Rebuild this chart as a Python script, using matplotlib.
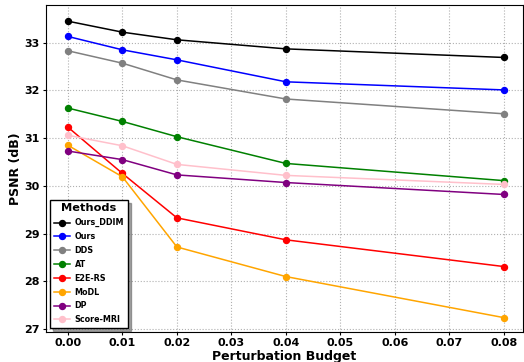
import matplotlib
matplotlib.use('Agg')
import matplotlib.pyplot as plt

budget = [0.0, 0.01, 0.02, 0.04, 0.08]
methods = ['Ours_DDIM', 'Ours', 'DDS', 'AT', 'E2E-RS', 'MoDL', 'DP', 'Score-MRI']
colors = ['black', 'blue', 'gray', 'green', 'red', 'orange', 'purple', 'pink']

ours_ddim = [33.45, 33.22, 33.06, 32.87, 32.69]
ours = [33.13, 32.85, 32.64, 32.18, 32.01]
dds = [32.83, 32.57, 32.22, 31.82, 31.51]
at = [31.63, 31.35, 31.03, 30.47, 30.11]
e2e_rs = [31.23, 30.26, 29.33, 28.87, 28.31]
modl = [30.85, 30.19, 28.72, 28.10, 27.24]
dp = [30.73, 30.55, 30.23, 30.07, 29.82]
score_mri = [31.06, 30.84, 30.45, 30.22, 30.03]

series = [ours_ddim, ours, dds, at, e2e_rs, modl, dp, score_mri]

fig, ax = plt.subplots(figsize=(5.24, 3.62), dpi=100)
for name, vals, c in zip(methods, series, colors):
    ax.plot(budget, vals, '-o', color=c, label=name, linewidth=1.1, markersize=4.3)

ax.set_xlim(-0.004, 0.0835)
ax.set_ylim(26.94, 33.78)
ax.set_xticks([0.0, 0.01, 0.02, 0.03, 0.04, 0.05, 0.06, 0.07, 0.08])
ax.set_xticklabels(['0.00', '0.01', '0.02', '0.03', '0.04', '0.05', '0.06', '0.07', '0.08'])
ax.set_yticks([27, 28, 29, 30, 31, 32, 33])
ax.tick_params(length=2.5, pad=2)
ax.grid(True, linestyle=':', color='#b0b0b0', linewidth=0.8)
for lbl in ax.get_xticklabels() + ax.get_yticklabels():
    lbl.set_fontweight('bold')
    lbl.set_fontsize(8)
ax.set_xlabel('Perturbation Budget', fontsize=9, fontweight='bold', labelpad=1)
ax.set_ylabel('PSNR (dB)', fontsize=9, fontweight='bold', labelpad=1.5)

leg = ax.legend(title='Methods', loc='lower left', shadow=True,
                frameon=True, fancybox=False, edgecolor='black',
                prop={'weight': 'bold', 'size': 5.8}, labelspacing=0.6,
                handlelength=2.0, handletextpad=0.6, borderpad=0.45,
                bbox_to_anchor=(0.0, 0.0))
leg.get_title().set_fontweight('bold')
leg.get_title().set_fontsize(8.2)
leg.get_frame().set_linewidth(1.0)

fig.subplots_adjust(left=0.088, right=0.998, top=0.985, bottom=0.083)
fig.savefig('out.png', dpi=100)
